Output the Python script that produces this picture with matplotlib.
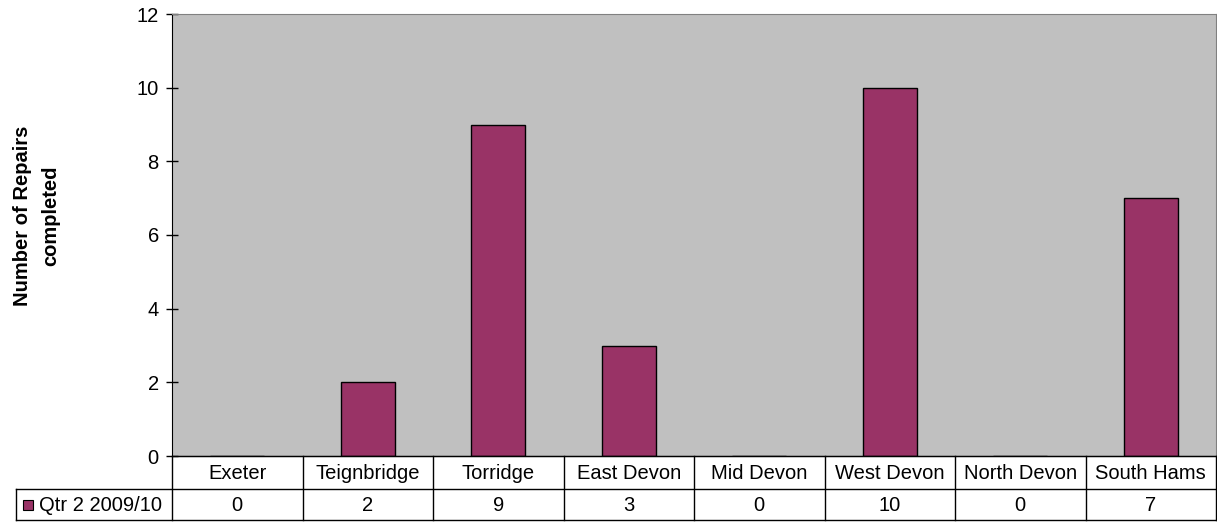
import matplotlib
matplotlib.use("Agg")
import matplotlib.pyplot as plt
import numpy as np
from matplotlib.patches import Rectangle

plt.rcParams['font.family'] = ['Liberation Sans', 'DejaVu Sans']

areas = ["Exeter", "Teignbridge", "Torridge", "East Devon", "Mid Devon",
         "West Devon", "North Devon", "South Hams"]
repairs = [0, 2, 9, 3, 0, 10, 0, 7]
series_name = "Qtr 2 2009/10"
yticks = [0, 2, 4, 6, 8, 10, 12]

W, H = 1217, 525
FS = 14.5
fig = plt.figure(figsize=(W / 100, H / 100), dpi=100)

# plot area in pixels
left, right, top, bottom = 172, 1216, 14, 456
ax = fig.add_axes([left / W, 1 - bottom / H, (right - left) / W, (bottom - top) / H])
ax.set_facecolor("#C0C0C0")

x = np.arange(len(areas))
ax.bar(x, repairs, width=0.41, color="#993366", edgecolor="black", linewidth=1)
ax.set_xlim(-0.5, len(areas) - 0.5)
ax.set_ylim(0, 12)
ax.set_yticks(yticks)
ax.tick_params(axis="y", direction="inout", length=9, width=1, labelsize=FS, pad=5)
ax.set_xticks([])
for s in ("top", "right"):
    ax.spines[s].set_color("#808080")
ax.spines["left"].set_color("black")
ax.spines["bottom"].set_color("black")

fig.text(37 / W, 1 - 216 / H, "Number of Repairs\ncompleted", rotation=90,
         ha="center", va="center", fontsize=FS, fontweight="bold", linespacing=1.6)

# data table below the axis
def px(xp, yp):
    return xp / W, 1 - yp / H

def hline(x0, x1, y):
    fig.add_artist(plt.Line2D([x0 / W, x1 / W], [1 - y / H, 1 - y / H],
                              color="black", linewidth=1, transform=fig.transFigure))

def vline(x0, y0, y1):
    fig.add_artist(plt.Line2D([x0 / W, x0 / W], [1 - y0 / H, 1 - y1 / H],
                              color="black", linewidth=1, transform=fig.transFigure))

row1, row2 = 489, 520
key_left = 16
col_w = (right - left) / len(areas)

for i in range(len(areas) + 1):
    vline(left + i * col_w, bottom, row2)
vline(key_left, row1, row2)
hline(left, right, bottom)
hline(key_left, right, row1)
hline(key_left, right, row2)

for i, (name, val) in enumerate(zip(areas, repairs)):
    cx = left + (i + 0.5) * col_w
    fig.text(*px(cx, (bottom + row1) / 2 + 1), name, ha="center", va="center", fontsize=FS)
    fig.text(*px(cx, (row1 + row2) / 2 + 1), str(val), ha="center", va="center", fontsize=FS)

# legend key
kx, ky = px(23, 510)
fig.add_artist(Rectangle((kx, ky), 10 / W, 10 / H, transform=fig.transFigure,
                         facecolor="#993366", edgecolor="black", linewidth=0.8))
fig.text(*px(39, (row1 + row2) / 2 + 1), series_name, ha="left", va="center", fontsize=FS)

fig.savefig("out.png", dpi=100)
